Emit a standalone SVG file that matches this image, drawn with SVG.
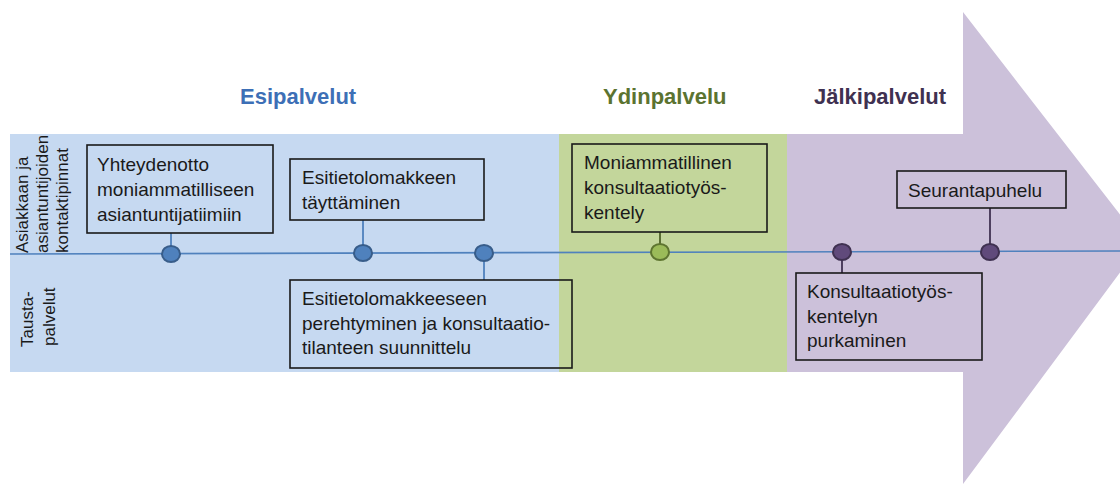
<svg xmlns="http://www.w3.org/2000/svg" width="1120" height="484" viewBox="0 0 1120 484">
<style>
.bx{fill:none;stroke:#1a1a1a;stroke-width:1.6}
.t{font-family:"Liberation Sans",Arial,sans-serif;font-size:19px;fill:#1a1a1a}
.h{font-family:"Liberation Sans",Arial,sans-serif;font-size:22px;font-weight:bold}
.v{font-family:"Liberation Sans",Arial,sans-serif;font-size:17px;fill:#1a1a1a}
.nb{fill:#4f81bd;stroke:#385d8a;stroke-width:2}
.ng{fill:#9bbb59;stroke:#5e7530;stroke-width:2}
.np{fill:#604a7b;stroke:#3f3151;stroke-width:2}
.cb{stroke:#4f81bd;stroke-width:1.8}
.cg{stroke:#4f6228;stroke-width:1.8}
.cp{stroke:#403152;stroke-width:1.8}
</style>
<rect width="1120" height="484" fill="#ffffff"/>
<g id="backgrounds">
<rect x="10" y="134" width="549" height="238" fill="#c6d9f1"/>
<rect x="559" y="134" width="228" height="238" fill="#c3d69b"/>
<polygon points="787,134 963,134 963,12 1142,243 963,484 963,372 787,372" fill="#ccc1da"/>
</g>
<g id="headers">
<text class="h" x="240" y="104" fill="#3d6fb6">Esipalvelut</text>
<text class="h" x="603" y="104" fill="#5b7330">Ydinpalvelu</text>
<text class="h" x="814" y="104" fill="#3f3151">Jälkipalvelut</text>
</g>
<g id="lane-labels">
<text class="v" transform="translate(28,253) rotate(-90)">Asiakkaan ja</text>
<text class="v" transform="translate(48,253) rotate(-90)">asiantuntijoiden</text>
<text class="v" transform="translate(68,253) rotate(-90)">kontaktipinnat</text>
<text class="v" transform="translate(33,347) rotate(-90)">Tausta-</text>
<text class="v" transform="translate(55,346) rotate(-90)">palvelut</text>
</g>
<g id="connectors">
<line x1="10" y1="254" x2="1120" y2="251" stroke="#4f81bd" stroke-width="1.6"/>
<line class="cb" x1="171" y1="233" x2="171" y2="254"/>
<line class="cb" x1="363" y1="220" x2="363" y2="253"/>
<line class="cb" x1="484" y1="253" x2="484" y2="280"/>
<line class="cg" x1="660" y1="232" x2="660" y2="252"/>
<line class="cp" x1="842" y1="252" x2="842" y2="273"/>
<line class="cp" x1="990" y1="208" x2="990" y2="252"/>
</g>
<g id="n1">
<rect class="bx" x="87" y="145" width="186" height="88"/>
<text class="t" x="97" y="171">Yhteydenotto</text>
<text class="t" x="97" y="196">moniammatilliseen</text>
<text class="t" x="97" y="221">asiantuntijatiimiin</text>
<ellipse class="nb" cx="171" cy="254" rx="9" ry="8"/>
</g>
<g id="n2">
<rect class="bx" x="290" y="159" width="194" height="61"/>
<text class="t" x="302" y="184">Esitietolomakkeen</text>
<text class="t" x="302" y="209">täyttäminen</text>
<ellipse class="nb" cx="363" cy="253" rx="9" ry="8"/>
</g>
<g id="n3">
<rect class="bx" x="290" y="280" width="282" height="88"/>
<text class="t" x="302" y="305">Esitietolomakkeeseen</text>
<text class="t" x="302" y="330">perehtyminen ja konsultaatio-</text>
<text class="t" x="302" y="354">tilanteen suunnittelu</text>
<ellipse class="nb" cx="484" cy="253" rx="9" ry="8"/>
</g>
<g id="n4">
<rect class="bx" x="572" y="144" width="195" height="88"/>
<text class="t" x="584" y="169">Moniammatillinen</text>
<text class="t" x="584" y="194">konsultaatiotyös-</text>
<text class="t" x="584" y="219">kentely</text>
<ellipse class="ng" cx="660" cy="252" rx="9" ry="8"/>
</g>
<g id="n5">
<rect class="bx" x="897" y="171" width="169" height="37"/>
<text class="t" x="908" y="197">Seurantapuhelu</text>
<ellipse class="np" cx="990" cy="252" rx="9" ry="8"/>
</g>
<g id="n6">
<rect class="bx" x="796" y="273" width="186" height="87"/>
<text class="t" x="807" y="298">Konsultaatiotyös-</text>
<text class="t" x="807" y="323">kentelyn</text>
<text class="t" x="807" y="347">purkaminen</text>
<ellipse class="np" cx="842" cy="252" rx="9" ry="8"/>
</g>
</svg>
